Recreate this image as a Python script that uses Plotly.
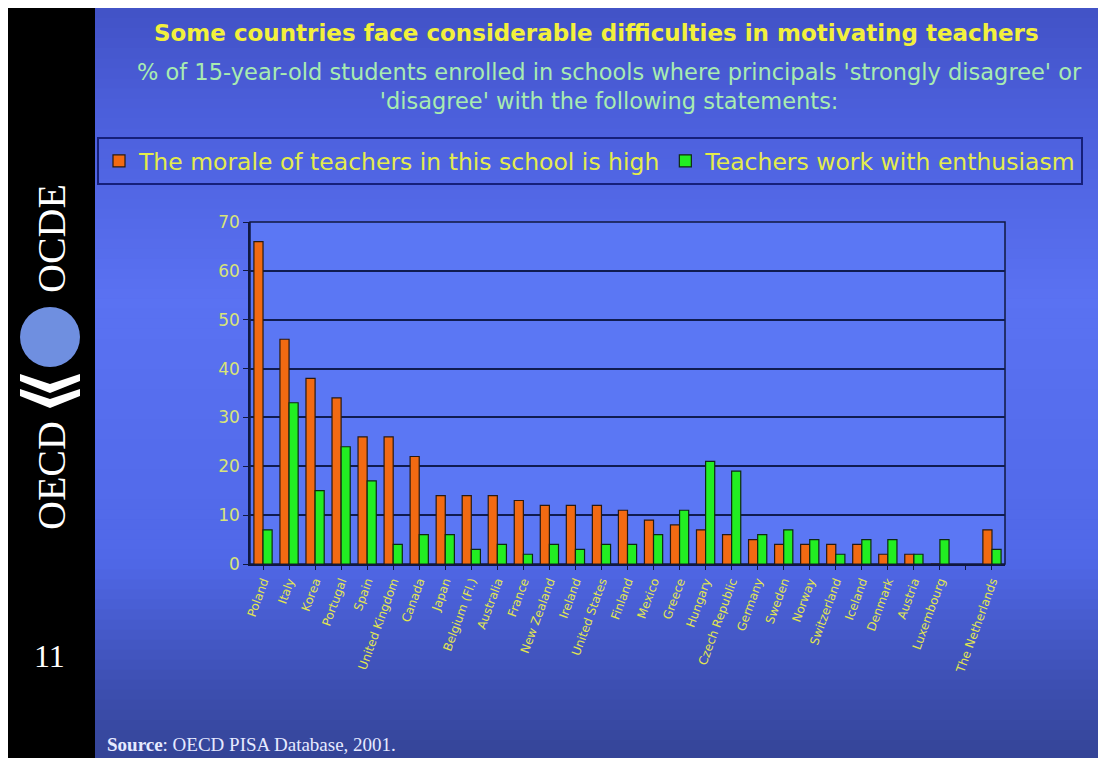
import plotly.graph_objects as go

countries = ["Poland", "Italy", "Korea", "Portugal", "Spain", "United Kingdom", "Canada",
             "Japan", "Belgium (Fl.)", "Australia", "France", "New Zealand", "Ireland",
             "United States", "Finland", "Mexico", "Greece", "Hungary", "Czech Republic",
             "Germany", "Sweden", "Norway", "Switzerland", "Iceland", "Denmark", "Austria",
             "Luxembourg", " ", "The Netherlands"]
morale = [66, 46, 38, 34, 26, 26, 22, 14, 14, 14, 13, 12, 12, 12, 11, 9, 8, 7, 6,
          5, 4, 4, 4, 4, 2, 2, 0, None, 7]
enthusiasm = [7, 33, 15, 24, 17, 4, 6, 6, 3, 4, 2, 4, 3, 4, 4, 6, 11, 21, 19,
              6, 7, 5, 2, 5, 5, 2, 5, None, 3]
series_names = ["The morale of teachers in this school is high",
                "Teachers work with enthusiasm"]
y_ticks = [0, 10, 20, 30, 40, 50, 60, 70]

OFF = 8  # page body margin
W, H = 1106 - OFF, 758 - OFF
L, R, T, B = 250 - OFF, 1005 - OFF, 222 - OFF, 564 - OFF


def px(x):  # x in reference-screen pixels
    return (x - OFF - L) / (R - L)


def py(y):
    return (B - (y - OFF)) / (B - T)


fig = go.Figure()
fig.add_trace(go.Bar(x=countries, y=morale, name=series_names[0],
                     marker=dict(color="#f26a12", line=dict(color="#2a1a10", width=1.2))))
fig.add_trace(go.Bar(x=countries, y=enthusiasm, name=series_names[1],
                     marker=dict(color="#22ee22", line=dict(color="#0e2a10", width=1.2))))

shapes = []
shapes.append(dict(type="rect", xref="paper", yref="paper", x0=px(8), x1=px(95), y0=py(760), y1=py(8),
                   fillcolor="black", line=dict(width=0), layer="below"))

# blue gradient background (bands)
stops = [(8, (66, 82, 198)), (120, (76, 96, 220)), (300, (90, 114, 242)), (560, (80, 104, 232)),
         (680, (62, 80, 180)), (758, (52, 68, 150))]


def colat(y):
    for (y0, c0), (y1, c1) in zip(stops[:-1], stops[1:]):
        if y0 <= y <= y1:
            t = (y - y0) / (y1 - y0)
            return tuple(round(a + (b - a) * t) for a, b in zip(c0, c1))
    return stops[-1][1]


n = 75
step = (760 - 8) / n
for i in range(n):
    y0 = 8 + step * i
    y1 = min(y0 + step + 3, 760)
    c = colat(y0 + step / 2)
    shapes.append(dict(type="rect", xref="paper", yref="paper", x0=px(95), x1=px(1100),
                       y0=py(y1), y1=py(y0), fillcolor="rgb(%d,%d,%d)" % c,
                       line=dict(width=0), layer="below"))
# plot area fill
shapes.append(dict(type="rect", xref="paper", yref="paper", x0=0, x1=1, y0=0, y1=1,
                   fillcolor="#5b77f4", line=dict(color="#101840", width=1.5), layer="below"))

# OECD logo elements
shapes.append(dict(type="circle", xref="paper", yref="paper", x0=px(20), x1=px(80), y0=py(367), y1=py(307),
                   fillcolor="#6f8fe0", line=dict(width=0)))


def pth(pts):
    return "M " + " L ".join("%f,%f" % (px(a), py(b)) for a, b in pts) + " Z"


shapes.append(dict(type="path", xref="paper", yref="paper",
                   path=pth([(20, 374), (50, 384), (80, 374), (80, 381), (50, 393), (20, 381)]),
                   fillcolor="white", line=dict(width=0)))
shapes.append(dict(type="path", xref="paper", yref="paper",
                   path=pth([(20, 389), (50, 399), (80, 389), (80, 396), (50, 408), (20, 396)]),
                   fillcolor="white", line=dict(width=0)))

annotations = []
annotations.append(dict(text="<b>Some countries face considerable difficulties in motivating teachers</b>",
                        xref="paper", yref="paper", x=px(596), y=py(33), showarrow=False,
                        font=dict(family="DejaVu Sans", size=23, color="#f2f03c"),
                        xanchor="center", yanchor="middle"))
annotations.append(dict(text="% of 15-year-old students enrolled in schools where principals 'strongly disagree' or<br>'disagree' with the following statements:",
                        xref="paper", yref="paper", x=px(609), y=py(86), showarrow=False,
                        font=dict(family="DejaVu Sans", size=22.5, color="#a8ecb0"),
                        xanchor="center", yanchor="middle", align="center"))
annotations.append(dict(text="OECD", xref="paper", yref="paper", x=px(51), y=py(475), textangle=-90,
                        showarrow=False, font=dict(family="Liberation Serif", size=40, color="white"),
                        xanchor="center", yanchor="middle"))
annotations.append(dict(text="OCDE", xref="paper", yref="paper", x=px(51), y=py(238), textangle=-90,
                        showarrow=False, font=dict(family="Liberation Serif", size=40, color="white"),
                        xanchor="center", yanchor="middle"))
annotations.append(dict(text="11", xref="paper", yref="paper", x=px(50), y=py(656),
                        showarrow=False, font=dict(family="Liberation Serif", size=32, color="white"),
                        xanchor="center", yanchor="middle"))
annotations.append(dict(text="<b>Source</b>: OECD PISA Database, 2001.", xref="paper", yref="paper",
                        x=px(105), y=py(744), showarrow=False,
                        font=dict(family="Liberation Serif", size=19, color="#e6eaff"),
                        xanchor="left", yanchor="middle"))

fig.update_layout(
    width=W, height=H,
    margin=dict(l=L, r=W - R, t=T, b=H - B, pad=0),
    paper_bgcolor="white", plot_bgcolor="rgba(0,0,0,0)",
    barmode="group", bargap=0.3, bargroupgap=0.0,
    shapes=shapes, annotations=annotations,
    showlegend=True,
    legend=dict(orientation="h", x=px(97), y=py(137), xanchor="left", yanchor="top",
                bgcolor="rgba(0,0,0,0)", bordercolor="#16207a", borderwidth=2,
                font=dict(family="DejaVu Sans", size=23.5, color="#e4ec4c"),
                itemwidth=30, tracegroupgap=0),
    xaxis=dict(type="category", categoryorder="array", categoryarray=countries,
               tickangle=-70, tickfont=dict(family="DejaVu Sans", size=12, color="#e2e650"),
               showline=True, linecolor="#101840", linewidth=1.5,
               ticks="outside", ticklen=4, tickcolor="#101840", showgrid=False),
    yaxis=dict(range=[0, 70], tickvals=y_ticks, ticks="outside", ticklen=5, tickcolor="#101840",
               showline=True, linecolor="#101840", linewidth=1.5,
               showgrid=True, gridcolor="#101c50", gridwidth=1.5, zeroline=False,
               tickfont=dict(family="DejaVu Sans", size=17, color="#d8e478")),
)

fig.write_html("out.html")
